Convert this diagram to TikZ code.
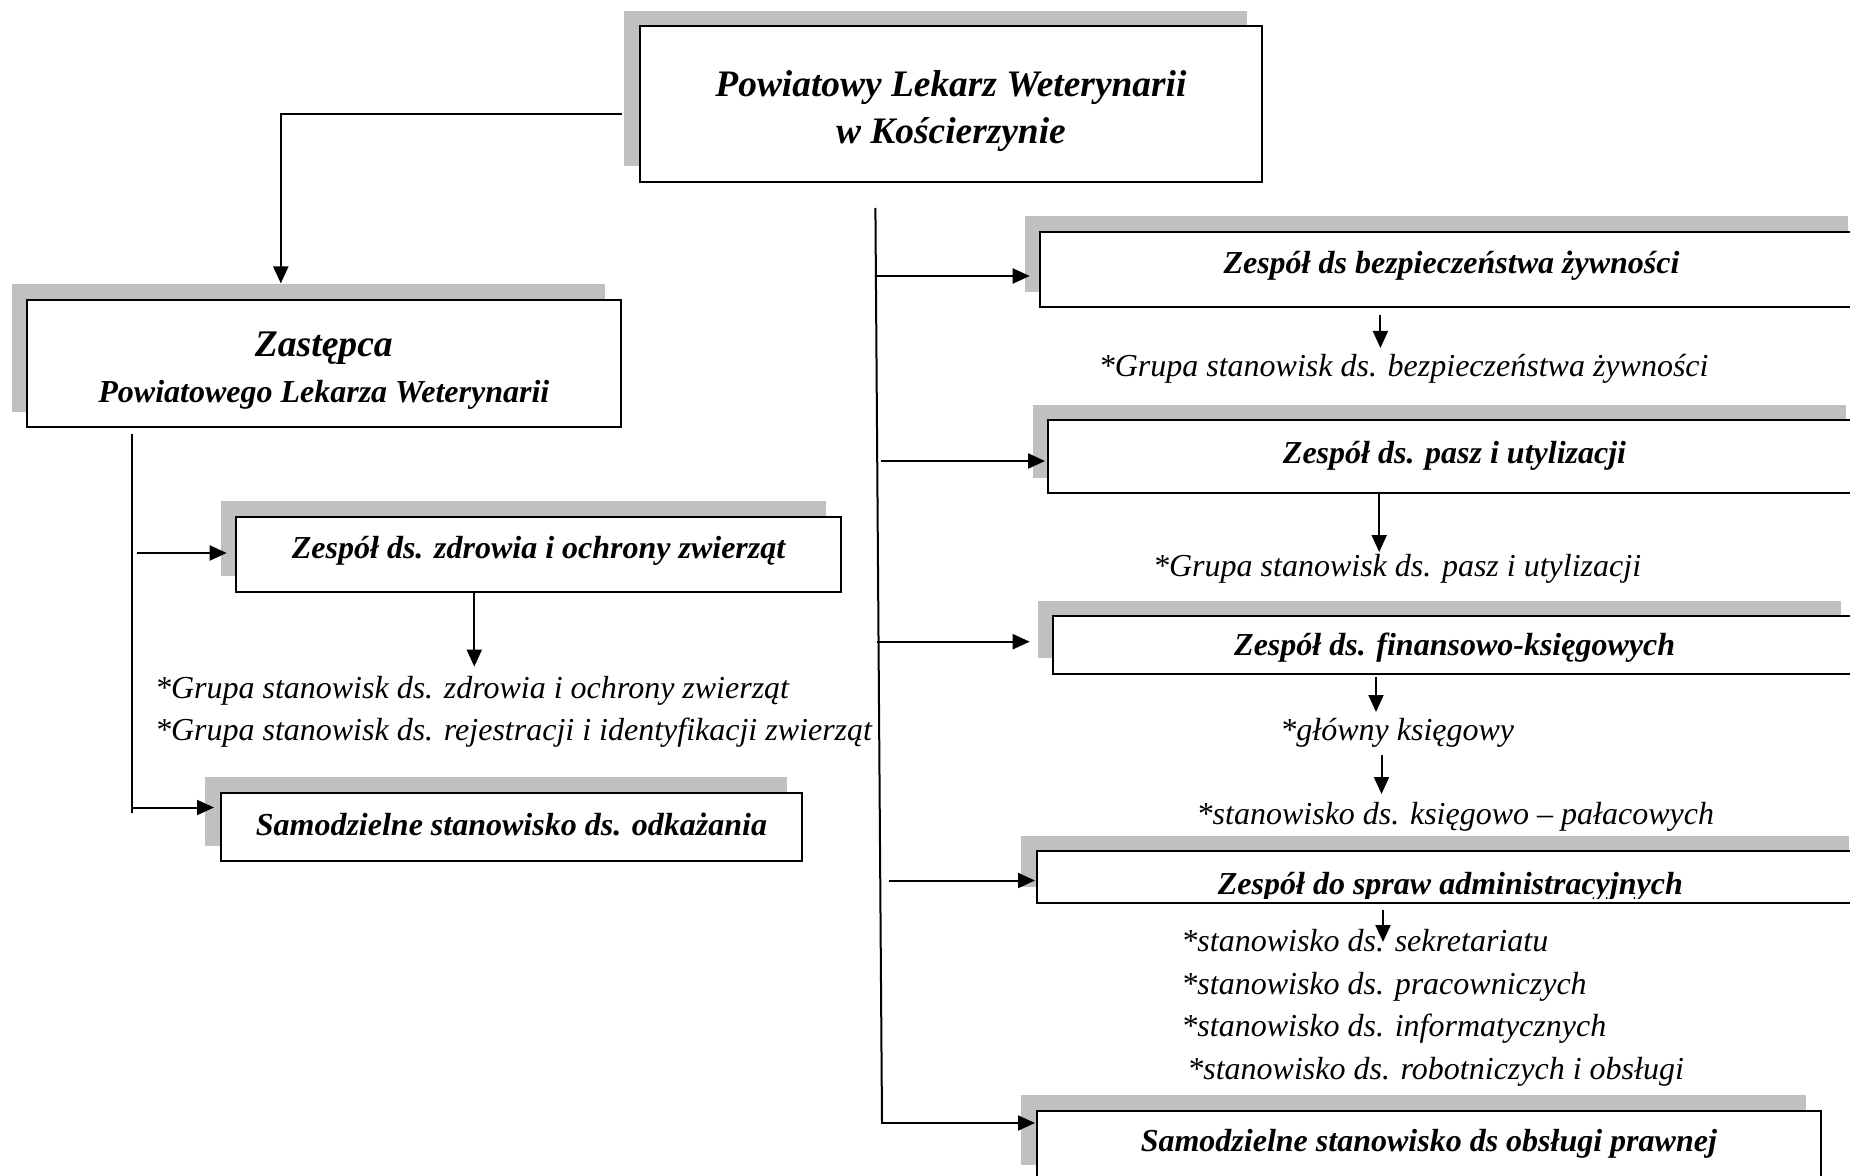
\documentclass[tikz,border=0pt]{standalone}
\usepackage{fontspec}
\setmainfont{Liberation Serif}
\usetikzlibrary{arrows.meta,calc,shadows}
\definecolor{shgray}{HTML}{C0C0C0}
\begin{document}
\begin{tikzpicture}[x=0.5pt,y=-0.5pt,
  box/.style={draw=black, line width=1pt, fill=white, inner sep=0pt,
    drop shadow={shadow xshift=-7.65pt, shadow yshift=7.65pt, fill=shgray, opacity=1},
    font=\fontsize{16}{23}\selectfont\bfseries\itshape, align=center, text depth=4pt},
  arr/.style={line width=1pt, -{Triangle[length=8.5pt,width=7.5pt]}},
  ln/.style={line width=1pt},
  item/.style={anchor=base west, inner sep=0pt, font=\fontsize{16}{20}\selectfont\itshape}]
\useasboundingbox (0,0) rectangle (1850,1176);
\fill[white] (0,0) rectangle (1850,1176);
\clip (0,0) rectangle (1850,1176);

% boxes
\node[box, minimum width=311.45pt, minimum height=77.85pt, text height=43.6pt, text depth=4pt, font=\fontsize{18.7}{23.6}\selectfont\bfseries\itshape] (plw) at (950.95,103.85) {Powiatowy Lekarz Weterynarii\\w Kościerzynie};
\node[box, minimum width=296.75pt, minimum height=63.65pt, text height=43.6pt, text depth=4pt] (zast) at (323.85,363.35) {{\fontsize{18.8}{23}\selectfont Zastępca}\\Powiatowego Lekarza Weterynarii};
\node[box, minimum width=302.6pt, minimum height=37.5pt, text height=8.3pt] (zdr) at (538.6,554.2) {Zespół ds. zdrowia i ochrony zwierząt};
\node[box, minimum width=290.85pt, minimum height=34.3pt, text height=12pt] (odk) at (511.45,827) {Samodzielne stanowisko ds. odkażania};
\node[box, minimum width=411.5pt, minimum height=37.8pt, text height=8pt] (bez) at (1451.5,269.5) {Zespół ds bezpieczeństwa żywności};
\node[box, minimum width=406.5pt, minimum height=36.65pt, text height=10.4pt] (pasz) at (1454.5,456.65) {Zespół ds. pasz i utylizacji};
\node[box, minimum width=401.35pt, minimum height=28.75pt, text height=15pt] (fin) at (1454.65,644.75) {Zespół ds. finansowo-księgowych};
\node[box, minimum width=413.65pt, minimum height=25.85pt,
  path picture={
    \clip (path picture bounding box.north west) rectangle ($(path picture bounding box.south east)+(0,-4)$);
    \node[anchor=base, inner sep=0pt, font=\fontsize{16}{23}\selectfont\bfseries\itshape] (admt) at ($(path picture bounding box.center)+(0,18)$) {Zespół do spraw administracyjnych};}] (adm) at (1450.35,876.85) {};
\node[box, minimum width=392.15pt, minimum height=34.8pt, text height=10pt] (praw) at (1428.85,1145.5) {Samodzielne stanowisko ds obsługi prawnej};

% list texts
\node[item] (zl1) at (154.6,698.2) {*Grupa stanowisk ds. zdrowia i ochrony zwierząt};
\node[item] (zl2) at (154.6,740.7) {*Grupa stanowisk ds. rejestracji i identyfikacji zwierząt};
\node[item] (bl1) at (1098.4,376) {*Grupa stanowisk ds. bezpieczeństwa żywności};
\node[item] (pl1) at (1152.7,576.7) {*Grupa stanowisk ds. pasz i utylizacji};
\node[item] (fl1) at (1280,740.7) {*główny księgowy};
\node[item] (fl2) at (1196.3,824.4) {*stanowisko ds. księgowo – pałacowych};
\node[item] (al1) at (1181,951.9) {*stanowisko ds. sekretariatu};
\node[item] (al2) at (1181,994.4) {*stanowisko ds. pracowniczych};
\node[item] (al3) at (1181,1036.8) {*stanowisko ds. informatycznych};
\node[item] (al4) at (1186.9,1079.3) {*stanowisko ds. robotniczych i obsługi};

% top connector
\coordinate (k0) at (622,114.4);
\coordinate (k1) at (280.8,114.4);
\draw[arr] (k0) -- (k1) -- ($(k1 |- zast.north)+(0,-15.3)$);

% left trunk
\coordinate (lt0) at (132.1,434);
\coordinate (lt1) at (132.1,813);
\draw[ln] (lt0) -- (lt1);
\coordinate (la1) at (136.9,553);
\draw[arr] (la1) -- ($(la1 -| zdr.west)+(-8.3,0)$);
\coordinate (la2) at (132.1,807.5);
\draw[arr] (la2) -- ($(la2 -| odk.west)+(-5.6,0)$);
\coordinate (d1) at (474.3,666.6);
\draw[arr] (d1 |- zdr.south) -- (d1);

% right trunk
\coordinate (rt0) at (875.4,208);
\coordinate (rt1) at (882,1123);
\draw[ln] (rt0) -- (rt1);
\coordinate (ra1) at (875,276);
\draw[arr] (ra1) -- ($(ra1 -| bez.west)+(-9.3,0)$);
\coordinate (ra2) at (880.7,461);
\draw[arr] (ra2) -- ($(ra2 -| pasz.west)+(-2,0)$);
\coordinate (ra3) at (877.3,641.7);
\draw[arr] (ra3) -- ($(ra3 -| fin.west)+(-22.6,0)$);
\coordinate (ra4) at (889.3,880.5);
\draw[arr] (ra4) -- ($(ra4 -| adm.west)+(-0.7,0)$);
\coordinate (ra5) at (880.7,1123);
\draw[arr] (ra5) -- ($(ra5 -| praw.west)+(-0.7,0)$);

% downward arrows on the right
\coordinate (b1) at (1380.4,348);
\draw[arr] ($(b1 |- bez.south)+(0,6.5)$) -- (b1);
\coordinate (b2) at (1379.2,552);
\draw[arr] (b2 |- pasz.south) -- (b2);
\coordinate (b3) at (1376,712);
\draw[arr] ($(b3 |- fin.south)+(0,2)$) -- (b3);
\coordinate (b4) at (1381.5,794);
\draw[arr] ($(b4 |- fl1.south)+(0,7)$) -- (b4);
\coordinate (b5) at (1383,942);
\draw[arr] ($(b5 |- adm.south)+(0,6)$) -- (b5);
\end{tikzpicture}
\end{document}
